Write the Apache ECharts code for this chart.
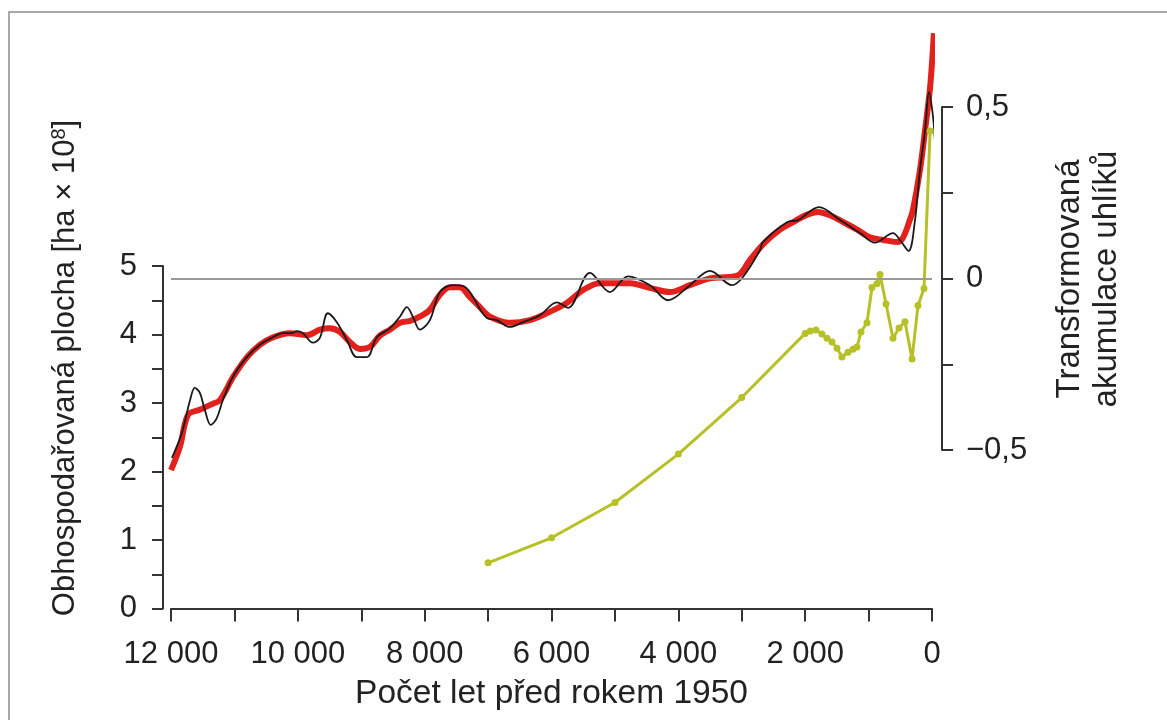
<!DOCTYPE html>
<html>
<head>
<meta charset="utf-8">
<script src="https://cdn.jsdelivr.net/npm/echarts@6/dist/echarts.min.js"></script>
<style>
html,body{margin:0;padding:0;background:#fff;}
#chart{width:1167px;height:720px;}
</style>
</head>
<body>
<div id="chart"></div>
<script>
// ---- data (years before 1950, values) ----
var redYears  = [12000,11860,11730,11550,11340,11230,11020,10800,10600,10390,10130,9860,9650,9500,9340,9180,9020,8860,8710,8550,8390,8230,8080,7920,7760,7600,7450,7290,7130,6970,6660,6340,6030,5760,5500,5240,4760,4450,4130,3820,3500,3190,3030,2870,2630,2400,2190,1970,1800,1610,1400,1180,980,770,550,460,350,300,190,110,30,-30];
var redValues = [2.02,2.36,2.83,2.90,2.99,3.04,3.38,3.67,3.85,3.96,4.02,3.99,4.07,4.09,4.04,3.89,3.79,3.82,3.98,4.07,4.17,4.20,4.26,4.36,4.58,4.69,4.69,4.55,4.40,4.26,4.17,4.21,4.33,4.46,4.65,4.75,4.75,4.68,4.62,4.72,4.82,4.84,4.88,5.09,5.35,5.53,5.64,5.75,5.79,5.74,5.64,5.53,5.42,5.38,5.35,5.41,5.67,5.82,6.40,6.98,7.61,8.40];

var blackYears  = [11985,11830,11700,11625,11546,11467,11372,11278,11183,11025,10804,10599,10394,10237,10095,10016,9921,9763,9653,9527,9385,9227,9069,8911,8754,8549,8391,8281,8186,8076,7918,7760,7555,7397,7287,7019,6861,6656,6451,6183,5915,5740,5393,5078,4795,4447,4163,3816,3501,3154,2981,2713,2666,2287,2114,1782,1451,1136,900,615,505,370,268,190,110,47,-16,-47];
var blackValues = [2.20,2.56,3.04,3.22,3.15,2.90,2.68,2.78,3.04,3.38,3.67,3.85,3.96,4.02,4.02,4.05,4.02,3.88,3.95,4.31,4.18,3.92,3.67,3.67,3.96,4.09,4.26,4.40,4.26,4.07,4.21,4.62,4.72,4.71,4.62,4.24,4.21,4.11,4.18,4.28,4.47,4.39,4.90,4.62,4.85,4.72,4.50,4.72,4.93,4.72,4.84,5.23,5.35,5.64,5.67,5.86,5.67,5.48,5.34,5.48,5.38,5.22,5.67,6.40,6.98,7.54,7.18,6.81];

var carbonYears  = [7000,6000,5000,4000,3000,2000,1920,1830,1735,1656,1577,1498,1420,1325,1246,1183,1120,1025,946,868,820,725,615,520,426,315,221,126,30];
var carbonValues = [-0.829,-0.756,-0.653,-0.512,-0.347,-0.160,-0.153,-0.150,-0.162,-0.174,-0.185,-0.203,-0.229,-0.215,-0.206,-0.200,-0.156,-0.129,-0.026,-0.015,0.012,-0.074,-0.174,-0.144,-0.126,-0.235,-0.079,-0.029,0.43];

var xTicks = [12000,10000,8000,6000,4000,2000,0];
var leftTicks = [0,1,2,3,4,5];
var rightTickLabels = {"0.5":"0,5","0":"0","-0.5":"\u22120,5"};

function zip(a,b){return a.map(function(v,i){return [v,b[i]];});}
function fmtThousands(v){
  var s = String(Math.abs(v));
  return s.replace(/\B(?=(\d{3})+(?!\d))/g,' ');
}

var FONT = "'Liberation Sans', Arial, Helvetica, sans-serif";
var TXT = '#222';
var AX = '#333';

var chart = echarts.init(document.getElementById('chart'), null, {renderer:'canvas'});
var option = {
  backgroundColor:'#fff',
  animation:false,
  grid:[
    {left:171, right:235, top:266, height:342.5},
    {left:171, right:235, top:107, height:343}
  ],
  xAxis:[
    {gridIndex:0, type:'value', min:0, max:12000, interval:1000, inverse:true,
     axisLine:{show:true, onZero:false, lineStyle:{color:AX, width:2}},
     axisTick:{show:true, length:13, lineStyle:{color:AX, width:2}},
     splitLine:{show:false},
     axisLabel:{margin:30, fontSize:31, color:TXT, fontFamily:FONT,
       formatter:function(v){return xTicks.indexOf(v)>=0 ? fmtThousands(v) : '';}},
     name:'Počet let před rokem 1950', nameLocation:'middle', nameGap:68,
     nameTextStyle:{fontSize:33.5, color:TXT, fontFamily:FONT}
    },
    {gridIndex:1, type:'value', min:0, max:12000, inverse:true, show:false,
     axisLine:{onZero:false}}
  ],
  yAxis:[
    {gridIndex:0, type:'value', position:'left', min:0, max:5, interval:0.5, offset:8,
     axisLine:{show:true, onZero:false, lineStyle:{color:AX, width:2}},
     axisTick:{show:true, length:11, lineStyle:{color:AX, width:2}},
     splitLine:{show:false},
     axisLabel:{margin:26, fontSize:31, color:TXT, fontFamily:FONT,
       formatter:function(v){return leftTicks.indexOf(v)>=0 ? String(v) : '';}}
    },
    {gridIndex:1, type:'value', position:'right', min:-0.5, max:0.5, interval:0.25, offset:10,
     axisLine:{show:true, onZero:false, lineStyle:{color:AX, width:2}},
     axisTick:{show:true, length:11, lineStyle:{color:AX, width:2}},
     splitLine:{show:false},
     axisLabel:{margin:24, fontSize:31, color:TXT, fontFamily:FONT,
       formatter:function(v){var k=String(v); return rightTickLabels.hasOwnProperty(k)?rightTickLabels[k]:'';}}
    }
  ],
  series:[
    {type:'line', xAxisIndex:1, yAxisIndex:1, data:[], silent:true,
     markLine:{silent:true, symbol:'none', label:{show:false},
       lineStyle:{color:'#9a9a9a', width:2, type:'solid'}, data:[{yAxis:0}]}},
    {name:'red', type:'line', xAxisIndex:0, yAxisIndex:0, data:zip(redYears,redValues),
     smooth:0.35, showSymbol:false, clip:false, silent:true,
     lineStyle:{color:'#e3201b', width:6}},
    {name:'black', type:'line', xAxisIndex:0, yAxisIndex:0, data:zip(blackYears,blackValues),
     smooth:0.35, showSymbol:false, clip:false, silent:true,
     lineStyle:{color:'#1a1a1a', width:1.8}},
    {name:'carbon', type:'line', xAxisIndex:1, yAxisIndex:1, data:zip(carbonYears,carbonValues),
     smooth:false, symbol:'circle', symbolSize:7, showAllSymbol:true, clip:false, silent:true,
     itemStyle:{color:'#b5c127'}, lineStyle:{color:'#b5c127', width:3}}
  ],
  graphic:[
    {type:'rect', shape:{x:9, y:12, width:1200, height:760}, style:{fill:'none', stroke:'#a8a8a8', lineWidth:2}, silent:true},
    {type:'text', x:65, y:368, rotation:Math.PI/2, silent:true,
     style:{text:'{a|Obhospodařovaná plocha [ha × 10}{s|8}{a|]}', align:'center', verticalAlign:'middle',
       rich:{a:{fontSize:31, fontFamily:FONT, fill:TXT}, s:{fontSize:20, fontFamily:FONT, fill:TXT, verticalAlign:'top', padding:[0,0,12,0]}}}},
    {type:'text', x:1088, y:279, rotation:Math.PI/2, silent:true,
     style:{text:'Transformovaná\nakumulace uhlíků', align:'center', verticalAlign:'middle',
       font:'33px '+FONT, fill:TXT, lineHeight:37}}
  ]
};
chart.setOption(option);
</script>
</body>
</html>
